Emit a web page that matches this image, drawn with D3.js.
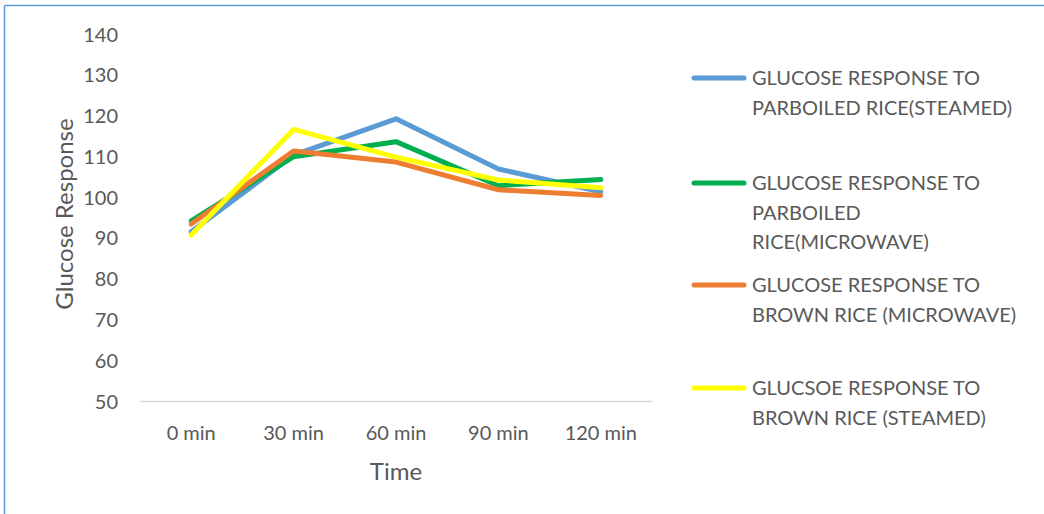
<!DOCTYPE html>
<html><head><meta charset="utf-8">
<script src="https://cdn.jsdelivr.net/npm/d3@7"></script>
<style>body{margin:0;background:#fff;}svg{display:block;font-family:Lato,"Open Sans",sans-serif;}</style>
</head><body>
<svg id="c" width="1044" height="514"></svg>
<script>
const categories = ["0 min","30 min","60 min","90 min","120 min"];
const seriesNames = [
  ["GLUCOSE RESPONSE TO","PARBOILED RICE(STEAMED)"],
  ["GLUCOSE RESPONSE TO","PARBOILED","RICE(MICROWAVE)"],
  ["GLUCOSE RESPONSE TO","BROWN RICE (MICROWAVE)"],
  ["GLUCSOE RESPONSE TO","BROWN RICE (STEAMED)"]
];
const parboiledSteamed = [91.5, 110.3, 119.2, 106.9, 101.3];
const parboiledMicrowave = [94.2, 109.9, 113.6, 102.8, 104.3];
const brownMicrowave = [93.4, 111.3, 108.6, 101.8, 100.4];
const brownSteamed = [90.7, 116.6, 109.8, 104.2, 102.3];
const yTicks = [50,60,70,80,90,100,110,120,130,140];
const colors = ["#5b9bd5","#00b050","#ed7d31","#ffff00"];
const seriesValues = [parboiledSteamed, parboiledMicrowave, brownMicrowave, brownSteamed];

const svg = d3.select("#c");
// frame
svg.append("line").attr("x1",4.5).attr("x2",1044).attr("y1",5.5).attr("y2",5.5).attr("stroke","#5b9bd5").attr("stroke-width",1.5);
svg.append("line").attr("x1",4.5).attr("x2",4.5).attr("y1",5.5).attr("y2",514).attr("stroke","#5b9bd5").attr("stroke-width",1.5);

const x = d3.scaleBand().domain(categories).range([140,652]);
const y = d3.scaleLinear().domain([50,140]).range([401,34]);

// y axis labels
const yAxis = d3.axisLeft(y).tickValues(yTicks).tickSize(0).tickPadding(0);
const ya = svg.append("g").attr("transform","translate(118,0)").call(yAxis);
ya.select(".domain").remove();
ya.selectAll("text").attr("font-size",20).attr("fill","#595959").attr("font-family","Lato,sans-serif").attr("dy","0.35em");

// x axis
const xAxis = d3.axisBottom(x).tickSize(0).tickPadding(0);
const xa = svg.append("g").attr("transform","translate(0,401)").call(xAxis);
xa.select(".domain").attr("stroke","#d9d9d9").attr("stroke-width",1.5);
xa.selectAll("text").attr("font-size",20).attr("fill","#595959").attr("font-family","Lato,sans-serif").attr("dy",0).attr("y",39);

// titles
svg.append("text").attr("x",396).attr("y",480).attr("text-anchor","middle").attr("font-size",24).attr("fill","#595959").text("Time");
svg.append("text").attr("transform","translate(73,214) rotate(-90)").attr("text-anchor","middle").attr("font-size",24).attr("fill","#595959").text("Glucose Response");

// lines
const line = d3.line().x((d,i)=>x(categories[i])+x.bandwidth()/2).y(d=>y(d));
seriesValues.forEach((vals,k)=>{
  svg.append("path").datum(vals).attr("d",line).attr("fill","none").attr("stroke",colors[k]).attr("stroke-width",5).attr("stroke-linejoin","round").attr("stroke-linecap","round");
});

// legend
const legendY = [78,183,285,388];
seriesNames.forEach((lines,k)=>{
  const g = svg.append("g");
  g.append("line").attr("x1",694).attr("x2",744).attr("y1",legendY[k]).attr("y2",legendY[k]).attr("stroke",colors[k]).attr("stroke-width",5).attr("stroke-linecap","round");
  lines.forEach((t,j)=>{
    g.append("text").attr("x",752).attr("y",legendY[k]+j*29.5).attr("dy","0.35em").attr("font-size",20).attr("fill","#595959").text(t);
  });
});
</script>
</body></html>
